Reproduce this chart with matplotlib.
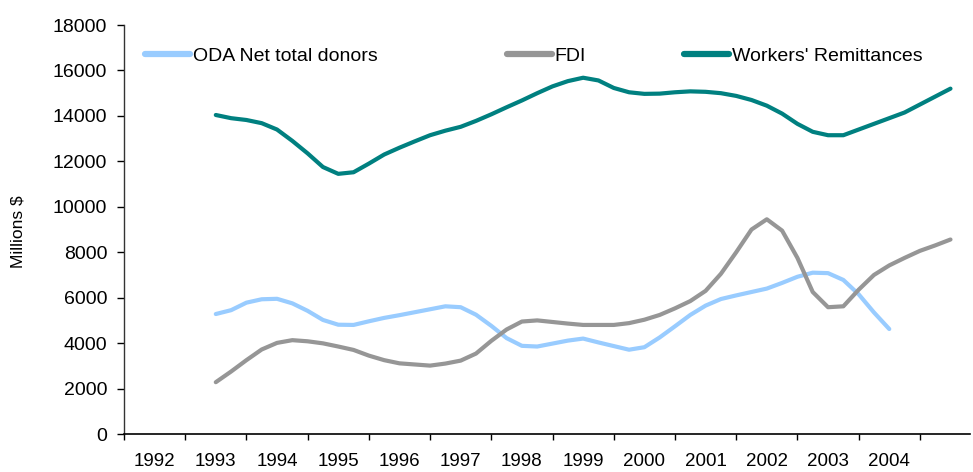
import matplotlib
matplotlib.use("Agg")
import matplotlib.pyplot as plt
from matplotlib.lines import Line2D
import numpy as np

plt.rcParams["font.family"] = ["Liberation Sans", "DejaVu Sans"]

year_labels = [str(y) for y in range(1992, 2005)]

# quarterly readings, 1993.00 .. 2005.00
remit_years = np.arange(1993.0, 2005.01, 0.25)
remittances = [
    14040, 13900, 13820, 13680, 13400, 12900, 12350, 11750,
    11450, 11520, 11900, 12300, 12600, 12880, 13150, 13350,
    13520, 13780, 14070, 14380, 14680, 15000, 15300, 15530,
    15680, 15560, 15230, 15040, 14970, 14980, 15040, 15080,
    15060, 15000, 14880, 14700, 14450, 14100, 13650, 13300,
    13150, 13150, 13400, 13650, 13900, 14150, 14500, 14850,
    15200,
]

fdi_years = np.arange(1993.0, 2005.01, 0.25)
fdi = [
    2280, 2750, 3250, 3720, 4010, 4130, 4080, 3990,
    3850, 3700, 3450, 3250, 3110, 3060, 3010, 3100,
    3230, 3540, 4100, 4600, 4950, 5000, 4930, 4860,
    4800, 4800, 4800, 4880, 5030, 5240, 5530, 5850,
    6300, 7050, 8000, 9000, 9450, 8950, 7750, 6250,
    5580, 5620, 6350, 7000, 7420, 7750, 8060, 8300,
    8560,
]

oda_years = np.arange(1993.0, 2004.01, 0.25)
oda = [
    5280, 5450, 5780, 5930, 5950, 5750, 5420, 5020,
    4810, 4800, 4960, 5110, 5230, 5360, 5490, 5620,
    5580, 5250, 4760, 4220, 3880, 3850, 3980, 4110,
    4200, 4030, 3870, 3710, 3820, 4250, 4740, 5240,
    5650, 5940, 6100, 6250, 6400, 6650, 6920, 7100,
    7080, 6780, 6150, 5350, 4620,
]

series_names = ["ODA Net total donors", "FDI", "Workers' Remittances"]
series_colors = ["#99CCFF", "#969696", "#008080"]

fig = plt.figure(figsize=(9.73, 4.72), dpi=100)
ax = fig.add_axes([0.1274, 0.0805, 0.8696, 0.8665])

lw = 3.0
ax.plot(oda_years, oda, color=series_colors[0], linewidth=lw,
        solid_capstyle="round", solid_joinstyle="round")
ax.plot(fdi_years, fdi, color=series_colors[1], linewidth=lw,
        solid_capstyle="round", solid_joinstyle="round")
ax.plot(remit_years, remittances, color=series_colors[2], linewidth=lw,
        solid_capstyle="round", solid_joinstyle="round")

ax.set_xlim(1991.5, 2005.32)
ax.set_ylim(0, 18000)

ax.set_yticks(range(0, 18001, 2000))
ax.set_yticklabels([str(v) for v in range(0, 18001, 2000)])
ax.tick_params(axis="y", direction="out", length=5, width=1,
               labelsize=14, pad=7)

ax.set_xticks(np.arange(1991.5, 2004.6, 1.0))
ax.set_xticklabels([])
ax.set_xticks(np.arange(1992, 2005), minor=True)
ax.set_xticklabels(year_labels, minor=True)
ax.tick_params(axis="x", which="major", direction="out", length=4, width=1)
ax.tick_params(axis="x", which="minor", length=0, labelsize=13.5, pad=14)

for side in ["top", "right"]:
    ax.spines[side].set_visible(False)
ax.spines["left"].set_color("#333333")
ax.spines["left"].set_linewidth(1)
ax.spines["bottom"].set_linewidth(1.2)

fig.text(18 / 973, 1 - 232 / 472, "Millions $", rotation=90,
         ha="center", va="center", fontsize=12.5)

legend_x = [145 / 973, 507 / 973, 684 / 973]
for name, color, x in zip(series_names, series_colors, legend_x):
    handle = Line2D([], [], color=color, linewidth=4.5,
                    solid_capstyle="round")
    fig.legend([handle], [name], loc="center left",
               bbox_to_anchor=(x, 1 - 56 / 472), frameon=False,
               fontsize=14, handlelength=2.3, handletextpad=0.15,
               borderpad=0, borderaxespad=0)

fig.savefig("out.png", dpi=100)
